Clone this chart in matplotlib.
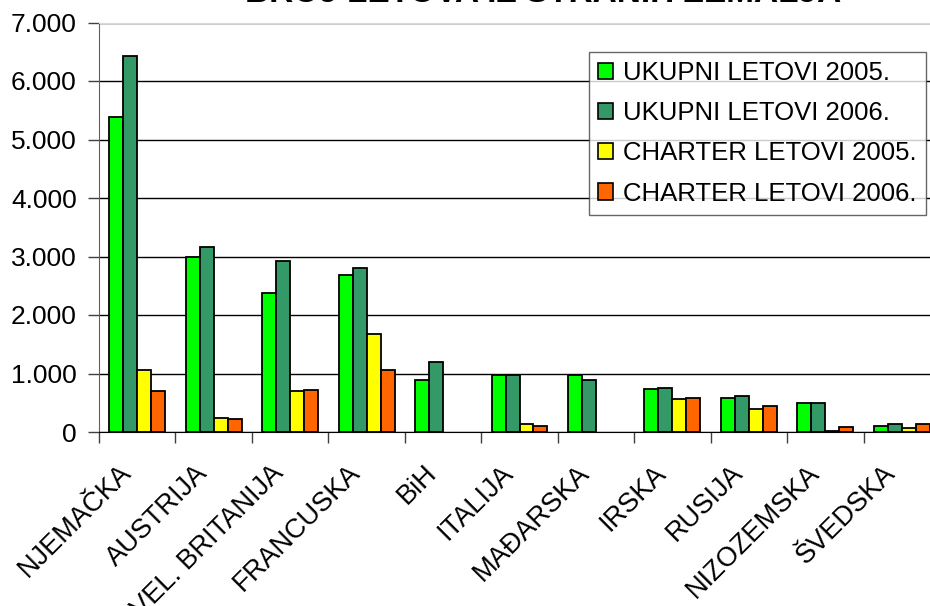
import matplotlib
matplotlib.use("Agg")
import numpy as np
import matplotlib.pyplot as plt
import matplotlib.transforms as mtransforms
from matplotlib.patches import Patch
from matplotlib.ticker import FuncFormatter

plt.rcParams['font.family'] = ['Liberation Sans', 'DejaVu Sans']

zemlje = ["NJEMAČKA", "AUSTRIJA", "VEL. BRITANIJA", "FRANCUSKA", "BiH", "ITALIJA",
          "MAĐARSKA", "IRSKA", "RUSIJA", "NIZOZEMSKA", "ŠVEDSKA"]
ukupni_2005 = [5380, 2990, 2375, 2685, 895, 980, 975, 730, 580, 495, 100]
ukupni_2006 = [6425, 3165, 2915, 2800, 1200, 980, 895, 750, 610, 495, 130]
charter_2005 = [1060, 245, 695, 1680, 0, 130, 0, 560, 385, 25, 75]
charter_2006 = [695, 215, 720, 1060, 0, 100, 0, 580, 445, 80, 130]

serije = [
    ("UKUPNI LETOVI 2005.", ukupni_2005, "#00ff00"),
    ("UKUPNI LETOVI 2006.", ukupni_2006, "#339966"),
    ("CHARTER LETOVI 2005.", charter_2005, "#ffff00"),
    ("CHARTER LETOVI 2006.", charter_2006, "#ff6600"),
]

fig = plt.figure(figsize=(9.3, 6.06), dpi=100)
ax = fig.add_axes([99 / 930, 174 / 606, 841 / 930, 409.5 / 606])

x = np.arange(len(zemlje))
w = 0.183
for i, (naziv, vrijednosti, boja) in enumerate(serije):
    # nulte vrijednosti se ne crtaju (bez ruba)
    lw = [1.3 if v > 0 else 0 for v in vrijednosti]
    ax.bar(x + (i - 1.5) * w, vrijednosti, w, color=boja, edgecolor="black",
           linewidth=lw, label=naziv, zorder=3)

ax.set_xlim(-0.5, len(zemlje) - 0.5)
ax.set_ylim(0, 7000)
ax.set_yticks(np.arange(0, 7001, 1000))
ax.yaxis.set_major_formatter(FuncFormatter(lambda v, p: f"{int(v):,}".replace(",", ".")))
ax.grid(axis="y", color="black", linewidth=1, zorder=0)

ax.set_xticks(x)
ax.set_xticklabels(zemlje, rotation=45, ha="right", va="top", rotation_mode="default")
ax.set_xticks(np.arange(-0.5, len(zemlje), 1), minor=True)
ax.tick_params(axis="x", which="major", length=0, pad=20, labelsize=19.5)
ax.tick_params(axis="x", which="minor", length=8, width=1, color="#404040")
ax.tick_params(axis="y", length=8, width=1, color="#404040", labelsize=19, pad=8)
pomak = mtransforms.ScaledTranslation(-1 / 100, 0, fig.dpi_scale_trans)
for lbl in ax.get_xticklabels():
    lbl.set_transform(lbl.get_transform() + pomak)

ax.spines["right"].set_visible(False)
ax.spines["top"].set_color("#d9d9d9")
ax.spines["left"].set_color("#606060")
ax.spines["bottom"].set_color("black")

fig.text(543 / 930, 1 - 2 / 606, "BROJ LETOVA IZ STRANIH ZEMALJA", ha="center",
         va="baseline", fontsize=24, fontweight="bold")

handles = [Patch(facecolor=b, edgecolor="black", linewidth=1.2) for _, _, b in serije]
leg = fig.legend(handles, [s[0] for s in serije], loc="upper right",
                 bbox_to_anchor=(926 / 930, 1 - 52 / 606), fontsize=18.5,
                 frameon=True, fancybox=False, edgecolor="#404040",
                 handlelength=0.6, handleheight=0.6, handletextpad=0.4,
                 labelspacing=0.63, borderpad=0.35, borderaxespad=0)
leg.get_frame().set_linewidth(1)

fig.savefig("out.png", dpi=100)
